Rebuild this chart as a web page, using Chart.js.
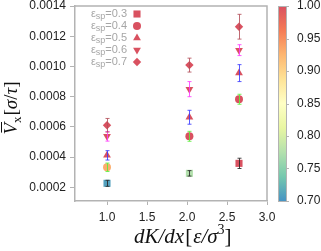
<!DOCTYPE html>
<html>
<head>
<meta charset="utf-8">
<script src="https://cdn.jsdelivr.net/npm/chart.js@4.4.1/dist/chart.umd.min.js"></script>
<style>
  html, body { margin: 0; padding: 0; background: #fff; }
  #wrap { width: 321px; height: 251px; }
</style>
</head>
<body>
<div id="wrap"><canvas id="c" width="321" height="251"></canvas></div>
<script>
/* ---- data ---- */
const X_VALUES = [1.0, 2.03, 2.65];
const SERIES_LABELS = ['0.3', '0.4', '0.5', '0.6', '0.7'];

const V_03 = [0.000227, 0.000293, 0.000359];
const V_04 = [0.000333, 0.000538, 0.000783];
const V_05 = [0.000412, 0.000664, 0.000956];
const V_06 = [0.000538, 0.000850, 0.001108];
const V_07 = [0.000611, 0.001009, 0.001263];

const ERR_03 = [0.000020, 0.000018, 0.000034];
const ERR_04 = [0.000028, 0.000033, 0.000033];
const ERR_05 = [0.000031, 0.000046, 0.000056];
const ERR_06 = [0.000032, 0.000050, 0.000036];
const ERR_07 = [0.000045, 0.000046, 0.000082];

// colour-bar value of each marker
const C_03 = [0.71, 0.775, 1.0];
const C_04 = [0.93, 1.0, 1.0];
const C_05 = [1.0, 1.0, 1.0];
const C_06 = [1.0, 1.0, 1.0];
const C_07 = [1.0, 1.0, 1.0];

const X_TICKS  = [1.0, 1.5, 2.0, 2.5, 3.0];
const Y_TICKS  = [0.0002, 0.0004, 0.0006, 0.0008, 0.0010, 0.0012, 0.0014];
const CB_TICKS = [0.70, 0.75, 0.80, 0.85, 0.90, 0.95, 1.00];

/* ---- styling ---- */
const GREY = '#b3b3b3';
const TICK_FONT = { family: 'Liberation Sans', size: 12 };
const SPECTRAL = ['#3288bd', '#66c2a5', '#abdda4', '#e6f598', '#ffffbf',
                  '#fee08b', '#fdae61', '#f46d43', '#d53e4f'];

function hexToRgb(hex) {
    const m = /^#?([a-f\d]{2})([a-f\d]{2})([a-f\d]{2})$/i.exec(hex);
    return [parseInt(m[1], 16), parseInt(m[2], 16), parseInt(m[3], 16)];
}

function cmap(v, a) {
    let t = (v - 0.7) / 0.3;
    t = Math.max(0, Math.min(1, t));
    const s = t * (SPECTRAL.length - 1);
    const i = Math.min(Math.floor(s), SPECTRAL.length - 2);
    const f = s - i;
    const c0 = hexToRgb(SPECTRAL[i]), c1 = hexToRgb(SPECTRAL[i + 1]);
    const c = c0.map((c, k) => Math.round(c + (c1[k] - c) * f));
    return `rgba(${c[0]},${c[1]},${c[2]},${a})`;
}

const SERIES = [
    { vals: V_03, err: ERR_03, col: C_03, style: 'rect',     rot: 0,   r: 5,   errColor: 'rgba(40,40,40,0.85)' },
    { vals: V_04, err: ERR_04, col: C_04, style: 'circle',   rot: 0,   r: 4,   errColor: 'rgba(90,240,60,0.85)' },
    { vals: V_05, err: ERR_05, col: C_05, style: 'triangle', rot: 0,   r: 4.5, errColor: 'rgba(60,60,255,0.85)' },
    { vals: V_06, err: ERR_06, col: C_06, style: 'triangle', rot: 180, r: 4.5, errColor: 'rgba(255,60,255,0.85)' },
    { vals: V_07, err: ERR_07, col: C_07, style: 'rectRot',  rot: 0,   r: 4.2, errColor: 'rgba(180,80,90,0.85)' },
];

/* draw a list of text runs left to right; returns end x */
function drawRuns(ctx, runs, x, y, measureOnly) {
    let cx = x;
    runs.forEach(r => {
        ctx.font = r.font;
        if (!measureOnly) ctx.fillText(r.t, cx, y + (r.dy || 0));
        cx += ctx.measureText(r.t).width + (r.sp || 0);
    });
    return cx;
}

const errorBars = {
    id: 'errorBars',
    afterDatasetsDraw(chart) {
        const { ctx, scales: { x, y } } = chart;
        ctx.save();
        ctx.lineWidth = 1;
        SERIES.forEach(s => {
            ctx.strokeStyle = s.errColor;
            X_VALUES.forEach((xv, j) => {
                const px = Math.round(x.getPixelForValue(xv)) + 0.5;
                const top = y.getPixelForValue(s.vals[j] + s.err[j]);
                const bot = y.getPixelForValue(s.vals[j] - s.err[j]);
                ctx.beginPath();
                ctx.moveTo(px, top); ctx.lineTo(px, bot);
                ctx.moveTo(px - 2, top); ctx.lineTo(px + 2, top);
                ctx.moveTo(px - 2, bot); ctx.lineTo(px + 2, bot);
                ctx.stroke();
            });
        });
        ctx.restore();
    },
};

const decorations = {
    id: 'decorations',
    afterDraw(chart) {
        const { ctx, chartArea: a, scales } = chart;
        ctx.save();

        // top / right frame
        ctx.strokeStyle = GREY;
        ctx.lineWidth = 1.5;
        ctx.beginPath();
        ctx.moveTo(a.left, a.top); ctx.lineTo(a.right, a.top); ctx.lineTo(a.right, a.bottom);
        ctx.stroke();

        // colour bar
        const cb = scales.cb;
        const y0 = cb.getPixelForValue(1.0), y1 = cb.getPixelForValue(0.7);
        const bx = 278, bw = 8;
        const g = ctx.createLinearGradient(0, y1, 0, y0);
        SPECTRAL.forEach((c, i) => g.addColorStop(i / (SPECTRAL.length - 1), cmap(0.7 + 0.3 * i / (SPECTRAL.length - 1), 0.9)));
        ctx.fillStyle = g;
        ctx.fillRect(bx, y0, bw, y1 - y0);
        ctx.strokeStyle = GREY;
        ctx.lineWidth = 1;
        ctx.strokeRect(bx + 0.5, y0 + 0.5, bw, y1 - y0);
        CB_TICKS.forEach(v => {
            const py = Math.round(cb.getPixelForValue(v)) + 0.5;
            ctx.beginPath();
            ctx.moveTo(bx + bw, py); ctx.lineTo(bx + bw + 3, py);
            ctx.stroke();
        });

        // legend (top-left inside the plot)
        ctx.textBaseline = 'middle';
        ctx.fillStyle = '#a6a6a6';
        SERIES_LABELS.forEach((lab, i) => {
            const ly = 14 + i * 12;
            const runs = [
                { t: 'ε', font: '11px Liberation Sans' },
                { t: 'sp', font: '9px Liberation Sans', dy: 3 },
                { t: '=' + lab, font: '11px Liberation Sans' },
            ];
            const w = drawRuns(ctx, runs, 0, ly, true);
            drawRuns(ctx, runs, 127 - w, ly);
            const s = SERIES[i];
            ctx.fillStyle = cmap(1.0, 0.9);
            Chart.helpers.drawPoint(ctx, { pointStyle: s.style, rotation: s.rot, radius: s.r, borderWidth: 0 }, 137, ly);
            ctx.fillStyle = '#a6a6a6';
        });

        // x axis title
        ctx.fillStyle = '#111';
        ctx.textBaseline = 'alphabetic';
        const IT = 'italic 19px Liberation Serif', UP = '19px Liberation Serif';
        const XI = 'italic 21px Liberation Serif', XU = '21px Liberation Serif';
        drawRuns(ctx, [
            { t: 'dK/dx', font: XI, sp: 1 },
            { t: '[', font: XU, sp: 1 },
            { t: 'ε/σ', font: XI },
            { t: '3', font: '14px Liberation Serif', dy: -9 },
            { t: ']', font: XU },
        ], 134, 243);

        // y axis title (rotated)
        ctx.translate(17, 108);
        ctx.rotate(-Math.PI / 2);
        const yRuns = [
            { t: 'V', font: IT },
            { t: 'x', font: '13px Liberation Serif', dy: 4, sp: 1 },
            { t: '[', font: UP },
            { t: 'σ', font: IT },
            { t: '/', font: UP },
            { t: 'τ', font: IT },
            { t: ']', font: UP },
        ];
        const yw = drawRuns(ctx, yRuns, 0, 0, true);
        const sx = -yw / 2;
        drawRuns(ctx, yRuns, sx, 0);
        ctx.font = IT;
        const vw = ctx.measureText('V').width;
        ctx.strokeStyle = '#111';
        ctx.lineWidth = 1;
        ctx.beginPath();
        ctx.moveTo(sx + 2, -15.5); ctx.lineTo(sx + vw + 1, -15.5);
        ctx.stroke();

        ctx.restore();
    },
};

const datasets = SERIES.map((s, i) => ({
    label: SERIES_LABELS[i],
    data: X_VALUES.map((xv, j) => ({ x: xv, y: s.vals[j] })),
    pointStyle: s.style,
    pointRotation: s.rot,
    pointRadius: s.r,
    pointBorderWidth: 0,
    pointBackgroundColor: s.col.map(v => cmap(v, 0.9)),
    showLine: false,
}));

// keep vertical axes from reserving extra room above/below the plot
function flatPad(s) { s.paddingTop = 0; s.paddingBottom = 0; }

new Chart(document.getElementById('c'), {
    type: 'scatter',
    data: { datasets },
    plugins: [errorBars, decorations],
    options: {
        responsive: false,
        animation: false,
        layout: { padding: { top: 6, left: 0, right: 0, bottom: 0 } },
        plugins: { legend: { display: false }, tooltip: { enabled: false } },
        scales: {
            x: {
                type: 'linear', min: 0.6, max: 3.0,
                afterBuildTicks: s => { s.ticks = X_TICKS.map(v => ({ value: v })); },
                afterFit: s => { s.height = 50; s.paddingLeft = 0; s.paddingRight = 0; },
                ticks: { callback: v => v.toFixed(1), color: '#222', font: TICK_FONT, padding: 5, maxRotation: 0 },
                grid: { drawOnChartArea: false, tickLength: 4, color: GREY },
                border: { color: GREY, width: 1.5 },
            },
            y: {
                type: 'linear', position: 'left', min: 0.00011, max: 0.0014,
                afterBuildTicks: s => { s.ticks = Y_TICKS.map(v => ({ value: v })); },
                afterFit: s => { s.width = 75; flatPad(s); },
                ticks: { callback: v => v.toFixed(4), color: '#222', font: TICK_FONT, padding: 4 },
                grid: { drawOnChartArea: false, tickLength: 5, color: GREY },
                border: { color: GREY, width: 1.5 },
            },
            cb: {
                type: 'linear', position: 'right', min: 0.7, max: 1.0,
                afterBuildTicks: s => { s.ticks = CB_TICKS.map(v => ({ value: v })); },
                afterFit: s => { s.width = 54; flatPad(s); },
                ticks: { callback: v => v.toFixed(2), color: '#222', font: TICK_FONT, padding: 30 },
                grid: { display: false, drawTicks: false },
                border: { display: false },
            },
        },
    },
});
</script>
</body>
</html>
